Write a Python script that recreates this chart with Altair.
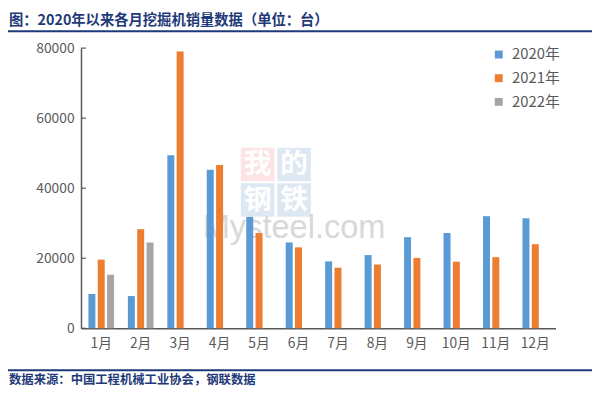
import altair as alt
import pandas as pd

months = ["1月", "2月", "3月", "4月", "5月", "6月", "7月", "8月", "9月", "10月", "11月", "12月"]
years = ["2020年", "2021年", "2022年"]
sales_2020 = [9800, 9200, 49400, 45300, 31800, 24500, 19100, 20900, 26000, 27200, 32000, 31400]
sales_2021 = [19600, 28300, 79000, 46600, 27200, 23100, 17300, 18200, 20100, 19000, 20300, 24000]
sales_2022 = [15300, 24500]
y_ticks = [0, 20000, 40000, 60000, 80000]
colors = ["#5B9BD5", "#ED7D31", "#A5A5A5"]
title_text = "图：2020年以来各月挖掘机销量数据（单位：台）"
source_text = "数据来源：中国工程机械工业协会，钢联数据"
wm_chars = ["我", "的", "钢", "铁"]
wm_text = "Mysteel.com"

rows = []
for yr, vals in zip(years, [sales_2020, sales_2021, sales_2022]):
    for m, v in zip(months, vals):
        rows.append({"month": m, "year": yr, "sales": v})
df = pd.DataFrame(rows)

FONT = "Noto Sans CJK SC"
GREY = "#595959"
NAVY = "#1F3A78"

one = alt.Data(values=[{"a": 1}])

y_axis = alt.Axis(values=y_ticks, format="d", grid=False, ticks=False, domainColor=GREY, domainWidth=1.5,
                  labelColor=GREY, labelFontSize=14, labelFont=FONT, labelPadding=7)
y_scale = alt.Scale(domain=[0, 80000], nice=False)

# watermark
wm_layers = []
boxes = [(162, 101, "#FBE3E6"), (199, 101, "#DEE8F3"), (162, 137, "#DEE8F3"), (199, 137, "#DEE8F3")]
for (bx, by, bg), ch in zip(boxes, wm_chars):
    wm_layers.append(alt.Chart(one).mark_rect(color=bg).encode(
        x=alt.value(bx), x2=alt.value(bx + 34), y=alt.value(by), y2=alt.value(by + 34)))
    wm_layers.append(alt.Chart(one).mark_text(text=ch, color="white", font=FONT, fontSize=28,
                                              fontWeight="bold", baseline="middle", align="center").encode(
        x=alt.value(bx + 17), y=alt.value(by + 18)))
wm_layers.append(alt.Chart(one).mark_text(text=wm_text, color="#D2D2D2", font="Liberation Sans",
                                          fontSize=33, baseline="middle", align="center", opacity=0.85).encode(
    x=alt.value(216), y=alt.value(182)))

bars = alt.Chart(df).mark_bar().encode(
    x=alt.X("month:N", sort=months, title=None,
            scale=alt.Scale(paddingInner=0.35, paddingOuter=0.1875),
            axis=alt.Axis(labelAngle=0, ticks=False, domainColor=GREY, domainWidth=1.5,
                          labelColor=GREY, labelFontSize=14, labelFont=FONT, labelPadding=9)),
    xOffset=alt.XOffset("year:N", sort=years, scale=alt.Scale(paddingInner=0.25, paddingOuter=0)),
    y=alt.Y("sales:Q", title=None, scale=y_scale, axis=y_axis),
    color=alt.Color("year:N", sort=years, scale=alt.Scale(domain=years, range=colors),
                    legend=alt.Legend(title=None, orient="none", legendX=416, legendY=-1,
                                      symbolType="square", symbolSize=64, symbolStrokeWidth=0,
                                      labelFontSize=15, labelFont=FONT, labelColor=GREY,
                                      labelOffset=6, rowPadding=8, padding=0)),
)

ticks = alt.Chart(pd.DataFrame({"v": y_ticks})).mark_rule(color=GREY, strokeWidth=1.2).encode(
    y=alt.Y("v:Q", title=None, scale=y_scale, axis=y_axis), x=alt.value(0), x2=alt.value(5))

title = alt.Chart(one).mark_text(text=title_text, align="left", baseline="middle", font=FONT,
                                 fontSize=14.5, fontWeight="bold", color=NAVY).encode(
    x=alt.value(-73), y=alt.value(-27))
top_line = alt.Chart(one).mark_rule(color=NAVY, strokeWidth=2).encode(
    x=alt.value(-74), x2=alt.value(520), y=alt.value(-17))
bottom_line = alt.Chart(one).mark_rule(color=NAVY, strokeWidth=2).encode(
    x=alt.value(-74), x2=alt.value(520), y=alt.value(326.5))
source = alt.Chart(one).mark_text(text=source_text, align="left", baseline="middle", font=FONT,
                                  fontSize=12.5, fontWeight="bold", color=NAVY).encode(
    x=alt.value(-73), y=alt.value(336.5))

chart = alt.layer(*wm_layers, bars, ticks, title, top_line, bottom_line, source).properties(
    width=481, height=284,
    padding={"left": 74, "top": 38, "right": 37, "bottom": 66},
    autosize=alt.AutoSizeParams(type="none"),
).configure_view(stroke=None)

chart.save("out.html", embed_options={"renderer": "svg", "actions": False})
